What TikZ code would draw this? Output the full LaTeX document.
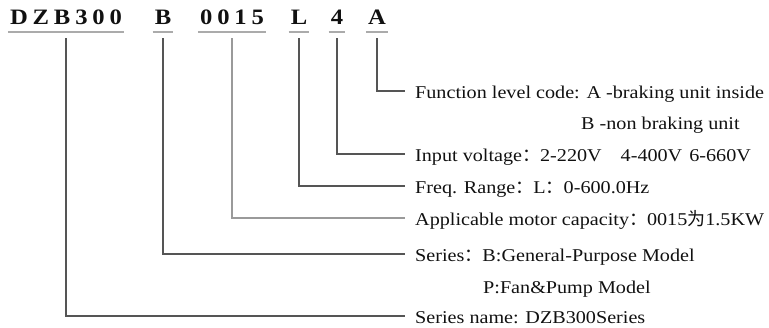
\documentclass[tikz,border=0pt]{standalone}
\usepackage{fontspec}
\setmainfont{Liberation Serif}[FakeStretch=1.12]
\newfontfamily\dzbCjk{Noto Sans CJK SC}
\usetikzlibrary{positioning}
\definecolor{dzbInk}{HTML}{111111}
\definecolor{dzbLine}{HTML}{555555}
\definecolor{dzbSoftLine}{HTML}{9A9A9A}
\definecolor{dzbRule}{HTML}{ABABAB}
\tikzset{
  dzbCode/.style={
    font={\fontsize{22}{24}\selectfont\bfseries\addfontfeatures{LetterSpace=22}},
    text=dzbInk,
    inner xsep=2pt,
    inner ysep=7pt,
    anchor=base
  },
  dzbDesc/.style={
    font={\fontsize{18}{20}\selectfont},
    text=dzbInk,
    inner sep=0pt,
    anchor=base west
  },
  dzbUnder/.style={
    draw=dzbRule,
    line width=2pt
  },
  dzbLead/.style={
    draw=dzbLine,
    line width=1.3pt
  },
  dzbSoftLead/.style={
    dzbLead,
    draw=dzbSoftLine
  }
}

\begin{document}
\begin{tikzpicture}[x=1pt,y=-1pt]
\useasboundingbox (0,0) rectangle (769,328);

% Type code.
\node[dzbCode] (cSeries) at (66,25) {DZB300};
\node[dzbCode] (cType) at (163,25) {B};
\node[dzbCode] (cPower) at (232,25) {0015};
\node[dzbCode] (cFreq) at (299,25) {L};
\node[dzbCode] (cVolt) at (337,25) {4};
\node[dzbCode] (cFunc) at (377,25) {A};

\foreach \c in {cSeries,cType,cPower,cFreq,cVolt,cFunc}
  \draw[dzbUnder] (\c.south west) -- (\c.south east);

% Meaning of each field.
\node[dzbDesc] (dFunc) at (415,99)
  {Function level code: A -braking unit inside};
\node[dzbDesc] (dFuncB) at (581,130)
  {B -non braking unit};
\node[dzbDesc] (dVolt) at (415,162)
  {Input voltage{\dzbCjk ：}2-220V\hspace{19pt}4-400V\hspace{7pt}6-660V};
\node[dzbDesc] (dFreq) at (415,194)
  {Freq. Range{\dzbCjk ：}L{\dzbCjk ：}0-600.0Hz};
\node[dzbDesc] (dPower) at (415,226)
  {Applicable motor capacity{\dzbCjk ：}0015{\dzbCjk 为}1.5KW};
\node[dzbDesc] (dType) at (415,262)
  {Series{\dzbCjk ：}B:General-Purpose Model};
\node[dzbDesc] (dTypeP) at (483,294)
  {P:Fan\&Pump Model};
\node[dzbDesc] (dSeries) at (415,324)
  {Series name: DZB300Series};

% Leaders.
\draw[dzbLead] ([yshift=-6pt]cFunc.south) |- ([xshift=-10pt,yshift=8pt]dFunc.base west);
\draw[dzbLead] ([yshift=-6pt]cVolt.south) |- ([xshift=-10pt,yshift=8pt]dVolt.base west);
\draw[dzbLead] ([yshift=-6pt]cFreq.south) |- ([xshift=-10pt,yshift=8pt]dFreq.base west);
\draw[dzbSoftLead] ([yshift=-6pt]cPower.south) |- ([xshift=-10pt,yshift=8pt]dPower.base west);
\draw[dzbLead] ([yshift=-6pt]cType.south) |- ([xshift=-10pt,yshift=8pt]dType.base west);
\draw[dzbLead] ([yshift=-6pt]cSeries.south) |- ([xshift=-10pt,yshift=8pt]dSeries.base west);

\end{tikzpicture}
\end{document}
